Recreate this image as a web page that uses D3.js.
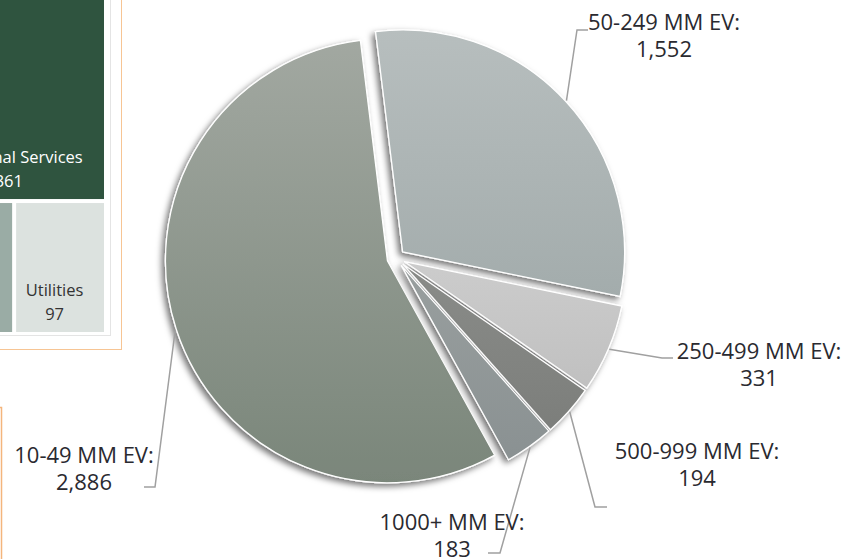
<!DOCTYPE html>
<html>
<head>
<meta charset="utf-8">
<script src="https://cdn.jsdelivr.net/npm/d3@7"></script>
<style>
  html, body { margin: 0; padding: 0; background: #ffffff; overflow: hidden; }
  svg { display: block; }
</style>
</head>
<body>
<div id="chart"></div>
<script>
// pie data (EV bands, number of companies)
const bands = ["50-249 MM EV", "250-499 MM EV", "500-999 MM EV", "1000+ MM EV", "10-49 MM EV"];
const bandCounts = [1552, 331, 194, 183, 2886];

// treemap fragment on the left (sector counts)
const sectors = ["Professional Services", "Consumer", "Utilities"];
const sectorCounts = [1361, 111, 97];
const sectorGroups = [0, 1, 1];

const width = 844, height = 559;
const font = "'Segoe UI', 'Open Sans', sans-serif";
const textColor = "#2a2a30";

// slice colours (top, bottom of a vertical gradient)
const sliceColors = [
    ["#b7bebe", "#a3acac"],
    ["#cccccc", "#c0c0c0"],
    ["#8a8c89", "#7c7e7b"],
    ["#999f9f", "#8a9192"],
    ["#a2a8a1", "#7a867a"]
];

// where each label sits and how its leader line bends
const labelLayout = [
    { x: 664, y: 30, elbow: [577, 30], end: 588 },
    { x: 759, y: 359, elbow: [662, 358], end: 673 },
    { x: 697, y: 459, elbow: [595, 507], end: 607 },
    { x: 452, y: 530, elbow: [500, 553], end: 488 },
    { x: 84, y: 463, elbow: [155, 487], end: 144 }
];

const svg = d3.select("#chart")
    .append("svg")
    .attr("width", width)
    .attr("height", height);

const defs = svg.append("defs");

const shadow = defs.append("filter")
    .attr("id", "shadow")
    .attr("x", "-20%").attr("y", "-20%")
    .attr("width", "140%").attr("height", "140%");
shadow.append("feDropShadow")
    .attr("dx", -3).attr("dy", 3)
    .attr("stdDeviation", 3)
    .attr("flood-color", "#000")
    .attr("flood-opacity", 0.55);

// ---- left card with treemap ----
const card = svg.append("g");

card.append("rect")
    .attr("x", -10).attr("y", -10)
    .attr("width", 131.5).attr("height", 359.5)
    .attr("fill", "#fff")
    .attr("stroke", "#f7c594")
    .attr("stroke-width", 1);

card.append("rect")
    .attr("x", -10).attr("y", -10)
    .attr("width", 120.5).attr("height", 345.5)
    .attr("fill", "none")
    .attr("stroke", "#e4e4e4")
    .attr("stroke-width", 1);

const treeData = {
    name: "root",
    children: [
        { name: sectors[0], value: sectorCounts[0], idx: 0 },
        {
            name: "group",
            children: sectors.map((s, i) => ({ name: s, value: sectorCounts[i], idx: i }))
                .filter((d, i) => sectorGroups[i] === 1)
        }
    ]
};

const treeRoot = d3.hierarchy(treeData).sum(d => d.value || 0);

// the treemap is larger than the visible area; only its lower right corner shows
const tmX = -89, tmY = -667;
d3.treemap()
    .size([104 - tmX, 332 - tmY])
    .paddingInner(4)
    .tile((node, x0, y0, x1, y1) => {
        if (node.depth === 0) d3.treemapSlice(node, x0, y0, x1, y1);
        else d3.treemapDice(node, x0, y0, x1, y1);
    })(treeRoot);

const tileColor = ["#2f543f", "#9aaca5", "#dce2df"];
const tileText = ["#ffffff", "#ffffff", "#333333"];

const tiles = card.append("g")
    .attr("transform", `translate(${tmX},${tmY})`)
    .selectAll("g.tile")
    .data(treeRoot.leaves())
    .join("g")
    .attr("class", "tile");

tiles.append("rect")
    .attr("x", d => d.x0)
    .attr("y", d => d.y0)
    .attr("width", d => d.x1 - d.x0)
    .attr("height", d => d.y1 - d.y0)
    .attr("fill", d => tileColor[d.data.idx]);

const tileLabel = tiles.append("text")
    .attr("text-anchor", "middle")
    .style("font-family", font)
    .style("font-size", "16.5px")
    .attr("fill", d => tileText[d.data.idx]);

tileLabel.append("tspan")
    .attr("x", d => (d.x0 + d.x1) / 2 - 5.5)
    .attr("y", d => d.y1 - 36)
    .text(d => d.data.name);

tileLabel.append("tspan")
    .attr("x", d => (d.x0 + d.x1) / 2 - 5.5)
    .attr("y", d => d.y1 - 12)
    .text(d => d3.format(",")(d.data.value));

// bottom-left card edge
svg.append("rect")
    .attr("x", -10).attr("y", 407.5)
    .attr("width", 11.5).attr("height", 200)
    .attr("fill", "none")
    .attr("stroke", "#f4b57c")
    .attr("stroke-width", 1.5);

// ---- pie ----
const cx = 396, cy = 258, radius = 222, explode = 9;

const pie = d3.pie()
    .sort(null)
    .startAngle(-7 * Math.PI / 180)
    .endAngle(353 * Math.PI / 180)
    .value(d => d);

const arc = d3.arc()
    .innerRadius(0)
    .outerRadius(radius);

const arcs = pie(bandCounts);

arcs.forEach((a, i) => {
    const g = defs.append("linearGradient")
        .attr("id", "grad" + i)
        .attr("x1", 0).attr("y1", 0)
        .attr("x2", 0).attr("y2", 1);
    g.append("stop").attr("offset", "0%").attr("stop-color", sliceColors[i][0]);
    g.append("stop").attr("offset", "100%").attr("stop-color", sliceColors[i][1]);
});

const offset = a => {
    const m = (a.startAngle + a.endAngle) / 2;
    return [cx + explode * Math.sin(m), cy - explode * Math.cos(m)];
};

const pieG = svg.append("g");

// draw the big slice first so the others sit on top
const order = [4, 0, 1, 2, 3];

pieG.selectAll("path.slice")
    .data(order.map(i => ({ a: arcs[i], i })))
    .join("path")
    .attr("class", "slice")
    .attr("transform", d => `translate(${offset(d.a)})`)
    .attr("d", d => arc(d.a))
    .attr("fill", d => `url(#grad${d.i})`)
    .attr("stroke", "#ffffff")
    .attr("stroke-width", 1.3)
    .attr("filter", "url(#shadow)");

// leader lines
const leader = d3.line();

svg.append("g")
    .selectAll("path")
    .data(arcs)
    .join("path")
    .attr("fill", "none")
    .attr("stroke", "#a0a0a0")
    .attr("stroke-width", 1.5)
    .attr("d", (a, i) => {
        const [ox, oy] = offset(a);
        const m = (a.startAngle + a.endAngle) / 2;
        const start = [ox + (radius + 1) * Math.sin(m), oy - (radius + 1) * Math.cos(m)];
        const L = labelLayout[i];
        return leader([start, L.elbow, [L.end, L.elbow[1]]]);
    });

// labels
const labels = svg.append("g")
    .selectAll("text")
    .data(arcs)
    .join("text")
    .attr("text-anchor", "middle")
    .style("font-family", font)
    .style("font-size", "22px")
    .attr("fill", textColor);

labels.append("tspan")
    .attr("x", (a, i) => labelLayout[i].x)
    .attr("y", (a, i) => labelLayout[i].y)
    .text((a, i) => bands[i] + ":");

labels.append("tspan")
    .attr("x", (a, i) => labelLayout[i].x)
    .attr("y", (a, i) => labelLayout[i].y + 27)
    .text(a => d3.format(",")(a.data));
</script>
</body>
</html>
